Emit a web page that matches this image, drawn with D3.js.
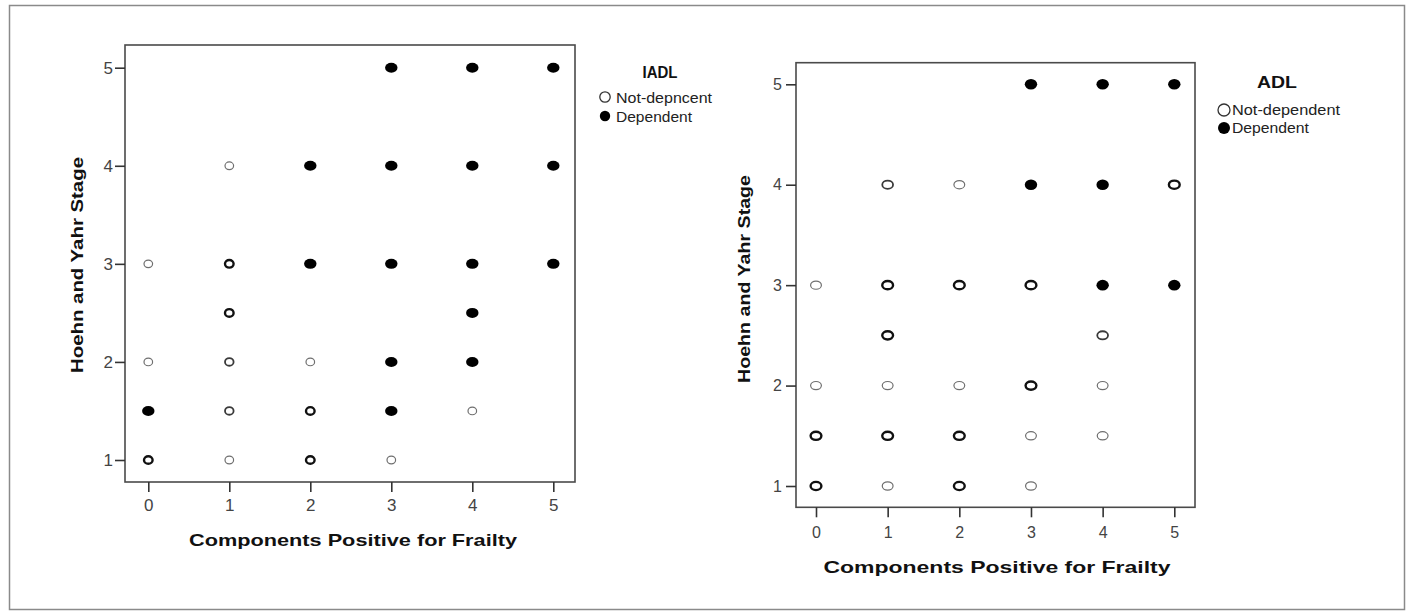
<!DOCTYPE html>
<html>
<head>
<meta charset="utf-8">
<script src="https://cdn.jsdelivr.net/npm/d3@7"></script>
<style>
  html, body { margin: 0; padding: 0; background: #fff; }
  svg { display: block; }
  text { font-family: "Liberation Sans", Arial, sans-serif; }
</style>
</head>
<body>
<svg id="chart" width="1412" height="616"></svg>
<script>
// ---------------- DATA ----------------
const xTicks = [0, 1, 2, 3, 4, 5];
const yTicks = [1, 2, 3, 4, 5];
const xTitle = "Components Positive for Frailty";
const yTitle = "Hoehn and Yahr Stage";

// [components, H&Y stage, status (1 = dependent), overlap weight (1 thin .. 3 thick)]
const iadlPoints = [
  [3, 5, 1, 1], [4, 5, 1, 1], [5, 5, 1, 1],
  [1, 4, 0, 1], [2, 4, 1, 1], [3, 4, 1, 1], [4, 4, 1, 1], [5, 4, 1, 1],
  [0, 3, 0, 1], [1, 3, 0, 3], [2, 3, 1, 1], [3, 3, 1, 1], [4, 3, 1, 1], [5, 3, 1, 1],
  [1, 2.5, 0, 3], [4, 2.5, 1, 1],
  [0, 2, 0, 1], [1, 2, 0, 2], [2, 2, 0, 1], [3, 2, 1, 1], [4, 2, 1, 1],
  [0, 1.5, 1, 1], [1, 1.5, 0, 2], [2, 1.5, 0, 3], [3, 1.5, 1, 1], [4, 1.5, 0, 1],
  [0, 1, 0, 3], [1, 1, 0, 1], [2, 1, 0, 3], [3, 1, 0, 1]
];
const adlPoints = [
  [3, 5, 1, 1], [4, 5, 1, 1], [5, 5, 1, 1],
  [1, 4, 0, 2], [2, 4, 0, 1], [3, 4, 1, 1], [4, 4, 1, 1], [5, 4, 0, 3],
  [0, 3, 0, 1], [1, 3, 0, 3], [2, 3, 0, 3], [3, 3, 0, 3], [4, 3, 1, 1], [5, 3, 1, 1],
  [1, 2.5, 0, 3], [4, 2.5, 0, 2],
  [0, 2, 0, 1], [1, 2, 0, 1], [2, 2, 0, 1], [3, 2, 0, 3], [4, 2, 0, 1],
  [0, 1.5, 0, 3], [1, 1.5, 0, 3], [2, 1.5, 0, 3], [3, 1.5, 0, 1], [4, 1.5, 0, 1],
  [0, 1, 0, 3], [1, 1, 0, 1], [2, 1, 0, 3], [3, 1, 0, 1]
];
const iadlLegend = { title: "IADL", labels: ["Not-depncent", "Dependent"] };
const adlLegend = { title: "ADL", labels: ["Not-dependent", "Dependent"] };

// ---------------- LAYOUT ----------------
const svg = d3.select("#chart");

// outer frame
svg.append("rect").attr("x", 9.5).attr("y", 5.5).attr("width", 1395).attr("height", 604)
  .attr("fill", "none").attr("stroke", "#8a8a8a").attr("stroke-width", 1.5);

const panels = [
  {
    points: iadlPoints, legend: iadlLegend,
    frame: { x0: 125, x1: 575, y0: 45, y1: 482 },
    xRange: [148.3, 553.3], yRange: [460, 67.7],
    openR: [4.3, 3.8], fillR: [6.2, 5.0],
    tickFont: 17, xLabelY: 505, yLabelX: 113,
    xTitle: { x: 353, y: 546, len: 328 },
    yTitle: { x: 83, y: 265, len: 216 },
    leg: { tx: 660, ty: 78, tlen: 35, cx: 605, y: [97, 116], lx: 616, llen: [96, 76], r: 5.2, font: 15.5 }
  },
  {
    points: adlPoints, legend: adlLegend,
    frame: { x0: 796, x1: 1195, y0: 62.7, y1: 507.3 },
    xRange: [816, 1174.3], yRange: [486, 84.3],
    openR: [5.4, 4.1], fillR: [6.2, 5.3],
    tickFont: 16, xLabelY: 532, yLabelX: 782,
    xTitle: { x: 997, y: 573, len: 347 },
    yTitle: { x: 750, y: 279, len: 208 },
    leg: { tx: 1277, ty: 88, tlen: 40, cx: 1224, y: [110, 128], lx: 1232, llen: [108, 77], r: 6, font: 15 }
  }
];

const weightStyle = {
  1: { sw: 1.2, col: "#6e6e6e" },
  2: { sw: 1.8, col: "#3a3a3a" },
  3: { sw: 2.4, col: "#111" }
};

panels.forEach(p => {
  const g = svg.append("g");
  const x = d3.scaleLinear().domain([0, 5]).range(p.xRange);
  const y = d3.scaleLinear().domain([1, 5]).range(p.yRange);
  const f = p.frame;

  // plot frame
  g.append("rect").attr("x", f.x0).attr("y", f.y0)
    .attr("width", f.x1 - f.x0).attr("height", f.y1 - f.y0)
    .attr("fill", "#fff").attr("stroke", "#4a4a4a").attr("stroke-width", 1.6);

  // x axis
  const xa = g.append("g").attr("transform", `translate(0,${f.y1})`)
    .call(d3.axisBottom(x).tickValues(xTicks).tickFormat(d3.format("d")).tickSize(10).tickPadding(4));
  xa.select(".domain").remove();
  xa.selectAll(".tick line").attr("stroke", "#333").attr("stroke-width", 1.6);
  xa.selectAll(".tick text").attr("font-size", p.tickFont).attr("fill", "#444")
    .attr("font-family", "'Liberation Sans', Arial, sans-serif")
    .attr("dy", null).attr("y", p.xLabelY - f.y1 + p.tickFont * 0.36);

  // y axis
  const ya = g.append("g").attr("transform", `translate(${f.x0},0)`)
    .call(d3.axisLeft(y).tickValues(yTicks).tickFormat(d3.format("d")).tickSize(10).tickPadding(2));
  ya.select(".domain").remove();
  ya.selectAll(".tick line").attr("stroke", "#333").attr("stroke-width", 1.6);
  ya.selectAll(".tick text").attr("font-size", p.tickFont).attr("fill", "#444")
    .attr("font-family", "'Liberation Sans', Arial, sans-serif")
    .attr("x", p.yLabelX - f.x0);

  // points
  const pts = g.append("g");
  pts.selectAll("ellipse.dep").data(p.points.filter(d => d[2] === 1)).join("ellipse")
    .attr("class", "dep")
    .attr("cx", d => x(d[0])).attr("cy", d => y(d[1]))
    .attr("rx", p.fillR[0]).attr("ry", p.fillR[1]).attr("fill", "#000");
  pts.selectAll("ellipse.nd").data(p.points.filter(d => d[2] === 0)).join("ellipse")
    .attr("class", "nd")
    .attr("cx", d => x(d[0])).attr("cy", d => y(d[1]))
    .attr("rx", p.openR[0]).attr("ry", p.openR[1]).attr("fill", "#fff")
    .attr("stroke", d => weightStyle[d[3]].col)
    .attr("stroke-width", d => weightStyle[d[3]].sw);

  // axis titles
  g.append("text").attr("x", p.xTitle.x).attr("y", p.xTitle.y)
    .attr("text-anchor", "middle").attr("font-size", 17).attr("font-weight", "bold")
    .attr("fill", "#111").attr("textLength", p.xTitle.len).attr("lengthAdjust", "spacingAndGlyphs")
    .text(xTitle);
  g.append("text").attr("transform", `translate(${p.yTitle.x},${p.yTitle.y}) rotate(-90)`)
    .attr("text-anchor", "middle").attr("font-size", 17).attr("font-weight", "bold")
    .attr("fill", "#111").attr("textLength", p.yTitle.len).attr("lengthAdjust", "spacingAndGlyphs")
    .text(yTitle);

  // legend
  const L = p.leg;
  g.append("text").attr("x", L.tx).attr("y", L.ty).attr("text-anchor", "middle")
    .attr("font-size", 17).attr("font-weight", "bold").attr("fill", "#111")
    .attr("textLength", L.tlen).attr("lengthAdjust", "spacingAndGlyphs")
    .text(p.legend.title);
  p.legend.labels.forEach((lab, i) => {
    const e = g.append("ellipse").attr("cx", L.cx).attr("cy", L.y[i])
      .attr("rx", L.r).attr("ry", L.r);
    if (i === 0) e.attr("fill", "#fff").attr("stroke", "#333").attr("stroke-width", 1.3);
    else e.attr("fill", "#000");
    g.append("text").attr("x", L.lx).attr("y", L.y[i] + L.font * 0.36)
      .attr("font-size", L.font).attr("fill", "#222")
      .attr("textLength", L.llen[i]).attr("lengthAdjust", "spacingAndGlyphs")
      .text(lab);
  });
});
</script>
</body>
</html>
